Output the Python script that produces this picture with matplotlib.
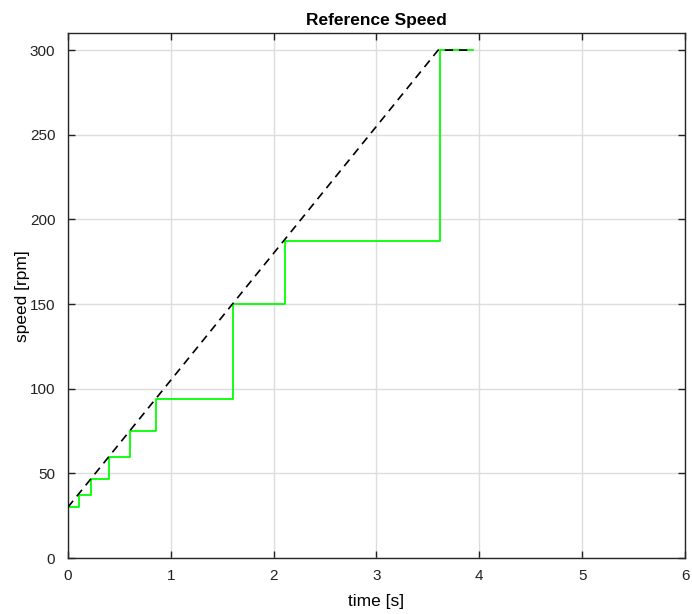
import matplotlib
matplotlib.use("Agg")
import matplotlib.pyplot as plt
import numpy as np

plt.rcParams['font.family'] = ['Liberation Sans', 'DejaVu Sans']

# Reference ramp (dashed)
ramp_t = [0.0, 3.6, 3.93]
ramp_v = [30.0, 300.0, 300.0]

# Quantized speed steps (green)
step_t = [0.0, 0.105, 0.23, 0.405, 0.605, 0.86, 1.61, 2.11, 3.62, 3.94]
step_v = [30.0, 37.5, 46.875, 60.0, 75.0, 93.75, 150.0, 187.5, 300.0, 300.0]

xticks = [0, 1, 2, 3, 4, 5, 6]
yticks = [0, 50, 100, 150, 200, 250, 300]

fig = plt.figure(figsize=(6.92, 6.14), dpi=100)
ax = fig.add_axes([0.098, 0.091, 0.892, 0.855])

ax.plot(ramp_t, ramp_v, color='black', linestyle=(0, (5, 3.5)), linewidth=1.2, zorder=3)
ax.step(step_t, step_v, where='post', color='#00ff00', linewidth=1.3, zorder=2)

ax.set_xlim(0, 6)
ax.set_ylim(0, 310)
ax.set_xticks(xticks)
ax.set_yticks(yticks)
ax.grid(True, color='#dddddd', linewidth=1.0)
ax.set_axisbelow(True)
ax.tick_params(direction='in', top=True, right=True, labelsize=11, length=5, width=1, colors='#222222')
ax.tick_params(axis='x', pad=7.5)
ax.tick_params(axis='y', pad=9)
for s in ax.spines.values():
    s.set_color('#262626')
    s.set_linewidth(1.0)

ax.set_title('Reference Speed', fontsize=12.5, fontweight='bold', pad=6)
ax.set_xlabel('time [s]', fontsize=12.5, labelpad=8)
ax.set_ylabel('speed [rpm]', fontsize=12.5)
ax.yaxis.set_label_coords(-0.062, 0.5)

fig.savefig('out.png', dpi=100)
